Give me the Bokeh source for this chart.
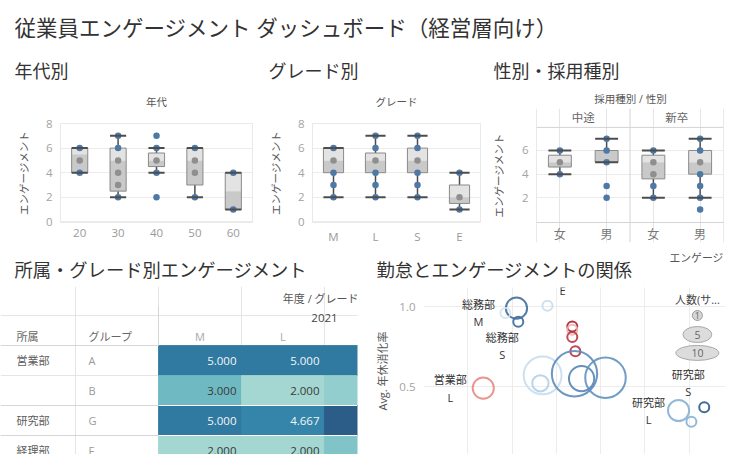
import math
from bokeh.plotting import figure
from bokeh.models import (ColumnDataSource, Range1d, FactorRange, FixedTicker, Span, Grid,
                          LinearColorMapper, NumeralTickFormatter, SingleIntervalTicker)
from bokeh.layouts import column, row
from bokeh.transform import dodge, transform
from bokeh.core.properties import value
from bokeh.embed import file_html
from bokeh.resources import INLINE

# ======================= DATA =======================
dashboard_title = "従業員エンゲージメント ダッシュボード（経営層向け）"
panel_titles = ["年代別", "グレード別", "性別・採用種別"]
panel_titles_2 = ["所属・グレード別エンゲージメント", "勤怠とエンゲージメントの関係"]
measure_name = "エンゲージメント"

# 年代別
age_header = "年代"
age_groups = ["20", "30", "40", "50", "60"]
age_low = [4, 2, 4, 2, 1]
age_q1 = [4, 2.5, 4.5, 3, 1]
age_med = [5.5, 5, 5, 5, 2.5]
age_q3 = [6, 6, 5.6, 6, 4]
age_high = [6, 7, 6, 6, 4]
age_pt_group = ["20"] * 3 + ["30"] * 6 + ["40"] * 5 + ["50"] * 4 + ["60"] * 2
age_pt_value = [6, 5, 4, 7, 6, 5, 4, 3, 2, 7, 6, 5, 4, 2, 6, 5, 4, 2, 4, 1]

# グレード別
grade_header = "グレード"
grades = ["M", "L", "S", "E"]
grade_low = [2, 2, 2, 1]
grade_q1 = [4, 4, 4, 1.5]
grade_med = [5, 5, 5, 2]
grade_q3 = [6, 5.6, 6, 3]
grade_high = [6, 7, 7, 4]
grade_pt_group = ["M"] * 5 + ["L"] * 6 + ["S"] * 6 + ["E"] * 3
grade_pt_value = [6, 5, 4, 3, 2, 7, 6, 5, 4, 3, 2, 7, 6, 5, 4, 3, 2, 4, 2, 1]

# 性別・採用種別
hg_header = "採用種別 / 性別"
hire_types = ["中途", "新卒"]
genders = ["女", "男"]
hg_factors = [(h, g) for h in hire_types for g in genders]
hg_low = [4, 5, 2, 2]
hg_q1 = [4.6, 5, 3.6, 4]
hg_med = [5, 6, 5, 5]
hg_q3 = [5.6, 6, 5.6, 6]
hg_high = [6, 7, 6, 7]
hg_pt_group = ([("中途", "女")] * 3 + [("中途", "男")] * 5 +
               [("新卒", "女")] * 5 + [("新卒", "男")] * 7)
hg_pt_value = [6, 5, 4, 7, 6, 5, 3, 2, 6, 5, 4, 3, 2, 7, 6, 5, 4, 3, 2, 1]

# 所属・グレード別エンゲージメント
tbl_col_header = "年度 / グレード"
tbl_year = "2021"
tbl_row_headers = ["所属", "グループ"]
tbl_depts = ["営業部", "営業部", "研究部", "経理部"]
tbl_groups = ["A", "B", "G", "F"]
tbl_grades = ["M", "L", "S"]
tbl_values = [[5.0, 5.0, 5.0],
              [3.0, 2.0, 2.333],
              [5.0, 4.667, 6.0],
              [2.0, 2.0, 2.667]]

# 勤怠とエンゲージメントの関係
bub_y_label = "Avg. 年休消化率"
bub_overtime = [21.0, 21.4, 18.5, 28.0, 33.6, 33.6, 33.6, 34.3, 13.5, 26.9, 26.4, 34.1, 35.7, 41.1, 57.6, 60.5, 63.4]
bub_leave = [0.99, 0.905, 0.96, 1.005, 0.875, 0.855, 0.81, 0.72, 0.49, 0.57, 0.52, 0.58, 0.55, 0.555, 0.35, 0.28, 0.37]
bub_headcount = [3, 1, 1, 1, 1, 1, 1, 1, 3, 8, 2, 11, 4, 9, 3, 1, 1]
bub_engagement = [5.6, 5.7, 3.8, 3.9, 1.0, 3.2, 1.5, 1.5, 2.8, 3.9, 4.1, 5.1, 5.2, 5.0, 4.5, 4.5, 6.0]
bub_label = ["総務部\nM", "総務部\nS", "", "総務部\nE", "", "", "", "", "営業部\nL",
             "", "", "", "", "", "研究部\nL", "", "研究部\nS"]
color_legend_title = "エンゲージ"
size_legend_title = "人数(サ..."
size_legend_counts = [1, 5, 10]

# ======================= STYLE =======================
FONT = "'Open Sans', 'Noto Sans CJK JP', sans-serif"
FV = value(FONT)
INK = "#4d4d4d"
BLUE = "#4e79a7"
GRAY_DOT = "#8f8f8f"
BOX_HI = "#e3e3e3"
BOX_LO = "#c9c9c9"
GRID = "#ececec"


def lerp_palette(stops, n=256):
    def h2rgb(h):
        return tuple(int(h[i:i + 2], 16) for i in (1, 3, 5))
    out = []
    for k in range(n):
        t = k / (n - 1)
        for (t0, c0), (t1, c1) in zip(stops, stops[1:]):
            if t0 <= t <= t1:
                f = (t - t0) / (t1 - t0)
                a, b = h2rgb(c0), h2rgb(c1)
                out.append("#%02x%02x%02x" % tuple(round(a[i] + (b[i] - a[i]) * f) for i in range(3)))
                break
    return out


BLUE_TEAL = lerp_palette([(0, "#bce4d8"), (0.3, "#72bcc4"), (0.7, "#3182a8"), (1.0, "#2c5985")])
RED_BLUE = lerp_palette([(0, "#a51c36"), (0.3, "#e06a64"), (0.45, "#f3b7ae"), (0.52, "#eef1f4"),
                         (0.6, "#bcd6ec"), (0.75, "#6e9fcc"), (1.0, "#2c5a8a")])


def bubble_diameter(n):
    return 15.25 * math.sqrt(n) - 5.25


def no_align(fig):
    if "frame_align" in fig.properties():
        fig.frame_align = False
    return fig


def blank_fig(w, h):
    s = figure(width=w, height=h, x_range=Range1d(0, w), y_range=Range1d(h, 0),
               x_axis_location=None, y_axis_location=None, toolbar_location=None,
               output_backend="svg", min_border=0, outline_line_color=None)
    s.xgrid.visible = False
    s.ygrid.visible = False
    return no_align(s)


def style_y_axis(p, standoff_label=12):
    ax = p.yaxis[0]
    ax.axis_line_color = None
    ax.major_tick_line_color = None
    ax.minor_tick_line_color = None
    ax.major_tick_out = 0
    ax.major_tick_in = 0
    ax.major_label_standoff = 8
    ax.major_label_text_font = FONT
    ax.major_label_text_font_size = "11.5px"
    ax.major_label_text_color = "#a3a3a3"
    ax.axis_label_text_font = FONT
    ax.axis_label_text_font_size = "10.5px"
    ax.axis_label_text_font_style = "normal"
    ax.axis_label_text_color = "#555555"
    ax.axis_label_standoff = standoff_label


def draw_box(p, cats, low, q1, med, q3, high, pcat, pval, w):
    src = ColumnDataSource(dict(x=cats, low=low, q1=q1, med=med, q3=q3, high=high))
    p.segment(x0="x", y0="q3", x1="x", y1="high", source=src, line_color=INK, line_width=1.5)
    p.segment(x0="x", y0="low", x1="x", y1="q1", source=src, line_color=INK, line_width=1.5)
    p.vbar(x="x", width=w, bottom="med", top="q3", source=src, fill_color=BOX_HI, line_color=None)
    p.vbar(x="x", width=w, bottom="q1", top="med", source=src, fill_color=BOX_LO, line_color=None)
    p.vbar(x="x", width=w, bottom="q1", top="q3", source=src, fill_color=None,
           line_color="#8a8a8a", line_width=1)
    cols = []
    for c, v in zip(pcat, pval):
        i = cats.index(c)
        cols.append(GRAY_DOT if q1[i] < v < q3[i] else BLUE)
    p.scatter(x=pcat, y=pval, size=6.5, fill_color=cols, line_color=None)
    lo = dodge("x", -w / 2, range=p.x_range)
    hi = dodge("x", w / 2, range=p.x_range)
    p.segment(x0=lo, y0="high", x1=hi, y1="high", source=src, line_color=INK, line_width=2)
    p.segment(x0=lo, y0="low", x1=hi, y1="low", source=src, line_color=INK, line_width=2)


ROW1_H = 142
STRIP1_H = 108


def box_fig(width, cats, left, right, box_w, data):
    p = figure(width=width, height=ROW1_H, x_range=FactorRange(*cats), y_range=Range1d(-0.05, 8.0),
               toolbar_location=None, output_backend="svg",
               min_border_left=left, min_border_right=right, min_border_top=15, min_border_bottom=28)
    no_align(p)
    p.outline_line_color = "#e9e9e9"
    p.xgrid.grid_line_color = None
    p.ygrid.grid_line_color = GRID
    p.yaxis.ticker = FixedTicker(ticks=[0, 2, 4, 6, 8])
    p.yaxis.axis_label = measure_name
    style_y_axis(p)
    ax = p.xaxis[0]
    ax.axis_line_color = None
    ax.major_tick_line_color = None
    ax.major_tick_out = 0
    ax.major_tick_in = 0
    ax.major_label_standoff = 6
    ax.major_label_text_font = FONT
    ax.major_label_text_font_size = "11.5px"
    ax.major_label_text_color = "#9a9a9a"
    draw_box(p, cats, *data, box_w)
    return p


# ======================= HEADER STRIP 1 =======================
strip1 = blank_fig(736, STRIP1_H)
strip1.text(x=[14], y=[27], text=[dashboard_title], text_font=FV, text_font_size="21.5px",
            text_color="#333333", text_baseline="middle")
strip1.text(x=[14, 268, 493], y=[70, 70, 70], text=panel_titles, text_font=FV,
            text_font_size="18px", text_color="#333333", text_baseline="middle")
strip1.text(x=[156, 396, 630], y=[101.5, 101.5, 98], text=[age_header, grade_header, hg_header],
            text_font=FV, text_font_size="10.5px", text_color="#555555",
            text_baseline="middle", text_align="center")

# ======================= ROW 1 =======================
p1 = box_fig(258, age_groups, 60, 6, 0.42,
             (age_low, age_q1, age_med, age_q3, age_high, age_pt_group, age_pt_value))
p2 = box_fig(230, grades, 54, 8, 0.48,
             (grade_low, grade_q1, grade_med, grade_q3, grade_high, grade_pt_group, grade_pt_value))

p3 = figure(width=248, height=ROW1_H,
            x_range=FactorRange(*hg_factors, factor_padding=0, group_padding=0, range_padding=0),
            y_range=Range1d(-1.78, 9.55), x_axis_location=None, toolbar_location=None,
            output_backend="svg", min_border_left=48, min_border_right=13,
            min_border_top=0, min_border_bottom=8)
no_align(p3)
p3.outline_line_color = None
p3.ygrid.grid_line_color = GRID
p3.yaxis.ticker = FixedTicker(ticks=[2, 4, 6])
p3.yaxis.axis_label = measure_name
style_y_axis(p3, 13)
draw_box(p3, hg_factors, hg_low, hg_q1, hg_med, hg_q3, hg_high, hg_pt_group, hg_pt_value, 0.49)
bounds = [0]
for h in hire_types:
    bounds.append(bounds[-1] + sum(1 for f in hg_factors if f[0] == h))
for b in bounds:
    p3.add_layout(Span(location=b, dimension="height", line_color="#d4d4d4", line_width=1))
for loc in (7.95, -0.09):
    p3.add_layout(Span(location=loc, dimension="width", line_color="#d4d4d4", line_width=1))
p3.text(x=hire_types, y=8.79, text=hire_types, text_font=FV, text_font_size="11.5px",
        text_color="#666666", text_align="center", text_baseline="middle")
p3.text(x=hg_factors, y=-1.1, text=[g for _, g in hg_factors], text_font=FV,
        text_font_size="12px", text_color="#777777", text_align="center", text_baseline="middle")

# ======================= HEADER STRIP 2 =======================
strip2 = blank_fig(736, 36)
strip2.text(x=[14, 376], y=[19, 19], text=panel_titles_2, text_font=FV, text_font_size="18.3px",
            text_color="#333333", text_baseline="middle")
strip2.text(x=[669], y=[7], text=[color_legend_title], text_font=FV, text_font_size="10.8px",
            text_color="#555555", text_baseline="middle")

# ======================= TABLE =======================
TX0, TX1 = -1.904, 2.398
tbl = figure(width=370, height=168, x_range=Range1d(TX0, TX1), y_range=Range1d(3.633, -1.967),
             x_axis_location=None, y_axis_location=None, toolbar_location=None,
             output_backend="svg", min_border=0, min_border_right=13, outline_line_color=None)
no_align(tbl)
tmap = LinearColorMapper(palette=BLUE_TEAL, low=1.55, high=6.12)
cx, cy, cv = [], [], []
tx, ty, tlab, ttc = [], [], [], []
for r, vals in enumerate(tbl_values):
    for c, v in enumerate(vals):
        cx.append(c + 0.5)
        cy.append(r + 0.5)
        cv.append(v)
        if c + 1 <= TX1:  # value text sits at the cell's right edge; only those in view
            tx.append(c + 1)
            ty.append(r + 0.5)
            tlab.append(f"{v:.3f}")
            ttc.append("#f2f6f8" if v >= 4 else "#3a3a3a")
cells = ColumnDataSource(dict(x=cx, y=cy, v=cv))
tbl.rect(x="x", y="y", width=1, height=1, source=cells, fill_color=transform("v", tmap),
         line_color=transform("v", tmap), line_width=0.8)
tbl.text(x=tx, y=ty, text=tlab, x_offset=-5, text_align="right",
         text_baseline="middle", text_font=FV, text_font_size="11.5px", text_color=ttc)

dept_shown = [d if i == 0 or d != tbl_depts[i - 1] else "" for i, d in enumerate(tbl_depts)]
rows_y = [r + 0.5 for r in range(len(tbl_groups))]
tbl.text(x=-1.71, y=rows_y, text=dept_shown, text_font=FV, text_font_size="11px",
         text_color="#5e5e5e", text_baseline="middle")
tbl.text(x=-0.843, y=rows_y, text=tbl_groups, text_font=FV, text_font_size="11px",
         text_color="#9a9a9a", text_baseline="middle")
tbl.text(x=[-1.71, -0.843], y=-0.3, text=tbl_row_headers, text_font=FV, text_font_size="11px",
         text_color="#666666", text_baseline="middle")
vis_grades = [(c + 0.5, g) for c, g in enumerate(tbl_grades) if c + 0.6 <= TX1]
tbl.text(x=[a for a, _ in vis_grades], y=-0.3, text=[g for _, g in vis_grades], text_font=FV,
         text_font_size="11px", text_color="#a8a8a8", text_align="center", text_baseline="middle")
tbl.text(x=[2.0], y=[-0.93], text=[tbl_year], text_font=FV, text_font_size="11.5px",
         text_color="#444444", text_align="center", text_baseline="middle")
tbl.text(x=[1.955], y=[-1.57], text=[tbl_col_header], text_font=FV, text_font_size="11px",
         text_color="#555555", text_align="center", text_baseline="middle")
sep_rows = [0] + [i for i in range(1, len(tbl_depts)) if tbl_depts[i] != tbl_depts[i - 1]]
tbl.segment(x0=TX0, y0=sep_rows, x1=0, y1=sep_rows, line_color="#d6d6d6", line_width=1)
tbl.segment(x0=0, y0=sep_rows[1:], x1=TX1, y1=sep_rows[1:], line_color="white", line_width=1)
tbl.segment(x0=[0], y0=[-1.3], x1=[0], y1=[0], line_color="#d6d6d6", line_width=1)

# ======================= BUBBLE =======================
bub = figure(width=366, height=168, x_range=Range1d(0, 68.2), y_range=Range1d(0.075, 1.119),
             x_axis_location=None, toolbar_location=None, output_backend="svg",
             min_border_left=53, min_border_right=11, min_border_top=1, min_border_bottom=0)
no_align(bub)
bub.outline_line_color = None
bub.add_layout(Grid(dimension=0, ticker=SingleIntervalTicker(interval=10), grid_line_color=GRID))
bub.ygrid.grid_line_color = GRID
bub.yaxis.ticker = FixedTicker(ticks=[0, 0.5, 1.0])
bub.yaxis.formatter = NumeralTickFormatter(format="0.0")
bub.yaxis.axis_label = bub_y_label
style_y_axis(bub, 6)
bub.yaxis.axis_label_text_font_size = "11px"

bmap = LinearColorMapper(palette=RED_BLUE, low=1.0, high=6.0)
bsrc = ColumnDataSource(dict(x=bub_overtime, y=bub_leave, n=bub_headcount, e=bub_engagement,
                             d=[bubble_diameter(n) for n in bub_headcount]))
bub.scatter(x="x", y="y", size="d", source=bsrc, fill_color=None,
            line_color=transform("e", bmap), line_width=2, line_alpha=0.9)

label_offsets = {0: (-38, 4.5), 1: (-16, 24.5), 3: (15, -23.5), 8: (-33, 0.5),
                 14: (-30, 0.5), 16: (-16, -24)}
li = [i for i, t in enumerate(bub_label) if t]
lsrc = ColumnDataSource(dict(x=[bub_overtime[i] for i in li], y=[bub_leave[i] for i in li],
                             t=[bub_label[i] for i in li],
                             dx=[label_offsets[i][0] for i in li],
                             dy=[label_offsets[i][1] for i in li]))
bub.text(x="x", y="y", text="t", source=lsrc, x_offset="dx", y_offset="dy",
         text_align="center", text_baseline="middle", text_font=FV, text_font_size="11px",
         text_color="#333333", text_line_height=1.15)

# size legend
leg_x = 61.85
leg_y = [0.944, 0.825, 0.71]
bub.text(x=[leg_x], y=[1.046], text=[size_legend_title], text_font=FV, text_font_size="11px",
         text_color="#444444", text_align="center", text_baseline="middle")
leg_d = [bubble_diameter(n) for n in size_legend_counts]
bub.scatter(x=[leg_x], y=[leg_y[0]], size=leg_d[0], fill_color="#d6d6d6", line_color="#9a9a9a")
bub.ellipse(x=[leg_x] * 2, y=leg_y[1:], width=leg_d[1:], height=[16, 15],
            width_units="screen", height_units="screen", fill_color="#dcdcdc", line_color="#a8a8a8")
bub.text(x=[leg_x] * 3, y=leg_y, text=[str(n) for n in size_legend_counts], text_font=FV,
         text_font_size=["9px", "10.5px", "10.5px"], text_color="#666666",
         text_align="center", text_baseline="middle")

layout = column(strip1, row(p1, p2, p3), strip2, row(tbl, bub))
open("out.html", "w").write(file_html(layout, INLINE, title="dashboard"))
